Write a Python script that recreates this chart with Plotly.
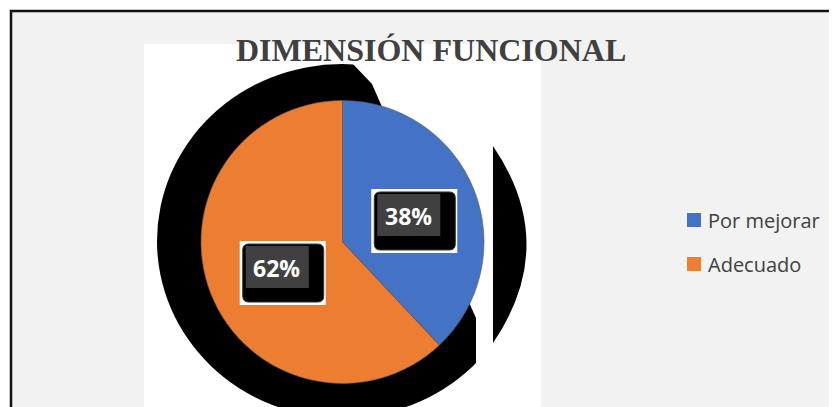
import math
import plotly.graph_objects as go

# ---- data ----
categories = ["Por mejorar", "Adecuado"]
values = [38, 62]
colors = ["#4472C4", "#ED7D31"]
title_text = "DIMENSIÓN FUNCIONAL"

W, H = 837, 407
OFF = 8  # page body margin

def px(x):
    return (x - OFF) / W

def py(y):
    return 1 - (y - OFF) / H

# pie geometry (screen pixels)
CX, CY, R = 342.5, 242, 141.5

fig = go.Figure()
fig.add_trace(go.Pie(
    labels=categories, values=values, sort=False, direction="clockwise", rotation=0,
    marker=dict(colors=colors, line=dict(color="#5a5a5a", width=0.6)),
    textinfo="none", hoverinfo="label+percent", showlegend=False,
    domain=dict(x=[px(CX - R), px(CX + R)], y=[py(CY + R), py(CY - R)]),
))

def path(points):
    return "M " + " L ".join(f"{px(x):.5f},{py(y):.5f}" for x, y in points) + " Z"

def rrect(x0, y0, x1, y1, r):
    return (f"M {px(x0 + r):.5f},{py(y0):.5f} L {px(x1 - r):.5f},{py(y0):.5f} "
            f"Q {px(x1):.5f},{py(y0):.5f} {px(x1):.5f},{py(y0 + r):.5f} "
            f"L {px(x1):.5f},{py(y1 - r):.5f} Q {px(x1):.5f},{py(y1):.5f} {px(x1 - r):.5f},{py(y1):.5f} "
            f"L {px(x0 + r):.5f},{py(y1):.5f} Q {px(x0):.5f},{py(y1):.5f} {px(x0):.5f},{py(y1 - r):.5f} "
            f"L {px(x0):.5f},{py(y0 + r):.5f} Q {px(x0):.5f},{py(y0):.5f} {px(x0 + r):.5f},{py(y0):.5f} Z")

shapes = []
# outer chart frame
shapes.append(dict(type="rect", xref="paper", yref="paper", x0=px(11), x1=px(W + 20), y0=py(11), y1=py(H + 20),
                   fillcolor="#F2F2F2", line=dict(color="#111111", width=2.5), layer="below"))
# white plot backdrop
shapes.append(dict(type="rect", xref="paper", yref="paper", x0=px(144), x1=px(540), y0=py(44), y1=py(H + 20),
                   fillcolor="white", line=dict(width=0), layer="below"))
# black shadow disc
shapes.append(dict(type="circle", xref="paper", yref="paper", x0=px(157), x1=px(527), y0=py(64), y1=py(418),
                   fillcolor="black", line=dict(width=0), layer="below"))
# white cut on the right side
shapes.append(dict(type="path", xref="paper", yref="paper",
                   path=path([(352, 44), (541, 44), (541, H + 20), (476, H + 20), (476, 318),
                              (379, 100), (372, 84), (352, 63)]),
                   fillcolor="white", line=dict(width=0), layer="below"))
# crescent shadow on the right
cres = (f"M {px(493):.5f},{py(146):.5f} L {px(493):.5f},{py(343):.5f} "
        f"Q {px(560):.5f},{py(244.5):.5f} {px(493):.5f},{py(146):.5f} Z")
shapes.append(dict(type="path", xref="paper", yref="paper", path=cres,
                   fillcolor="black", line=dict(width=0), layer="below"))

annotations = []
# data labels
total = sum(values)
cum = 0
for v in values:
    mid = (cum + v / 2) / total * 2 * math.pi
    cum += v
    lx = CX + 0.5 * R * math.sin(mid)
    ly = CY - 0.5 * R * math.cos(mid)
    shapes.append(dict(type="rect", xref="paper", yref="paper", x0=px(lx - 37), x1=px(lx + 49),
                       y0=py(ly - 27), y1=py(ly + 37), fillcolor="white", line=dict(width=0), layer="above"))
    shapes.append(dict(type="path", xref="paper", yref="paper", path=rrect(lx - 34, ly - 24, lx + 47, ly + 34, 6),
                       fillcolor="black", line=dict(color="#333", width=1), layer="above"))
    shapes.append(dict(type="rect", xref="paper", yref="paper", x0=px(lx - 31), x1=px(lx + 32),
                       y0=py(ly - 22), y1=py(ly + 20), fillcolor="#404040", line=dict(width=0), layer="above"))
    annotations.append(dict(xref="paper", yref="paper", x=px(lx), y=py(ly), text=f"<b>{round(v / total * 100)}%</b>",
                            showarrow=False, xanchor="center", yanchor="middle",
                            font=dict(family="Open Sans", size=23, color="white")))

# title
annotations.append(dict(xref="paper", yref="paper", x=px(431), y=py(50), text=f"<b>{title_text}</b>",
                        showarrow=False, xanchor="center", yanchor="middle",
                        font=dict(family="Liberation Serif", size=32, color="#404040")))

# manual legend
for i, (c, col) in enumerate(zip(categories, colors)):
    yc = 220 + i * 44
    shapes.append(dict(type="rect", xref="paper", yref="paper", x0=px(687), x1=px(701),
                       y0=py(yc - 7), y1=py(yc + 7), fillcolor=col, line=dict(width=0), layer="above"))
    annotations.append(dict(xref="paper", yref="paper", x=px(706), y=py(yc), text=c, showarrow=False,
                            xanchor="left", yanchor="middle",
                            font=dict(family="Open Sans", size=20, color="#404040")))

fig.update_layout(
    width=W, height=H, margin=dict(l=0, r=0, t=0, b=0),
    paper_bgcolor="white", plot_bgcolor="white",
    shapes=shapes, annotations=annotations, showlegend=False,
)

fig.write_html("out.html")
